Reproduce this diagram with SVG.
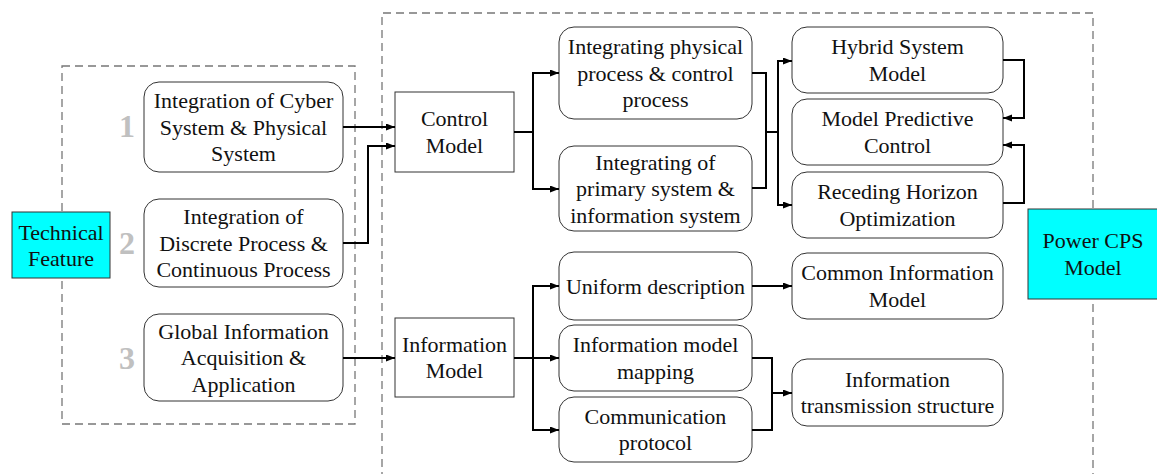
<svg xmlns="http://www.w3.org/2000/svg" width="1157" height="474" viewBox="0 0 1157 474">
<style>
text{font-family:"Liberation Serif","Times New Roman",serif;font-size:22px;fill:#111;text-anchor:middle}
.num{font-size:32px;font-weight:bold;fill:#c0c0c0}
.rbox{fill:#fff;stroke:#333;stroke-width:1}
.sbox{fill:#fff;stroke:#333;stroke-width:1}
.cyan{fill:#00ffff;stroke:#333;stroke-width:1}
.dash{fill:none;stroke:#777;stroke-width:1.3;stroke-dasharray:8,5}
.c{fill:none;stroke:#000;stroke-width:2}
.a{marker-end:url(#ah)}
</style>
<defs>
<marker id="ah" markerUnits="userSpaceOnUse" markerWidth="10" markerHeight="8" refX="9" refY="3.5" orient="auto">
<path d="M0,0 L9,3.5 L0,7 z" fill="#000"/>
</marker>
</defs>
<rect width="1157" height="474" fill="#fff"/>
<g id="groups">
<rect class="dash" x="62" y="66" width="293" height="358"/>
<path class="dash" d="M382,480 V13 H1093 V480"/>
</g>
<g id="numbers">
<text class="num" x="127" y="137">1</text>
<text class="num" x="127" y="254">2</text>
<text class="num" x="127" y="369">3</text>
</g>
<g id="n-tech">
<rect class="cyan" x="12" y="212" width="98" height="66"/>
<text x="61" y="239.5">Technical</text><text x="61" y="265.5">Feature</text>
</g>
<g id="n-cyber">
<rect class="rbox" x="144" y="82" width="199" height="90" rx="15"/>
<text x="243.5" y="108">Integration of Cyber</text><text x="243.5" y="134.5">System &amp; Physical</text><text x="243.5" y="161">System</text>
</g>
<g id="n-discrete">
<rect class="rbox" x="144" y="199" width="199" height="88" rx="15"/>
<text x="243.5" y="224">Integration of</text><text x="243.5" y="250.5">Discrete Process &amp;</text><text x="243.5" y="277">Continuous Process</text>
</g>
<g id="n-global">
<rect class="rbox" x="144" y="314" width="199" height="87" rx="15"/>
<text x="243.5" y="338.5">Global Information</text><text x="243.5" y="365">Acquisition &amp;</text><text x="243.5" y="391.5">Application</text>
</g>
<g id="n-control">
<rect class="sbox" x="395" y="92" width="119" height="80"/>
<text x="454.5" y="126">Control</text><text x="454.5" y="152.5">Model</text>
</g>
<g id="n-info">
<rect class="sbox" x="395" y="318" width="119" height="79"/>
<text x="454.5" y="351.5">Information</text><text x="454.5" y="378">Model</text>
</g>
<g id="n-physproc">
<rect class="rbox" x="559" y="27" width="193" height="92" rx="15"/>
<text x="655.5" y="54">Integrating physical</text><text x="655.5" y="80.5">process &amp; control</text><text x="655.5" y="107">process</text>
</g>
<g id="n-primary">
<rect class="rbox" x="559" y="146" width="193" height="85" rx="15"/>
<text x="655.5" y="169.5">Integrating of</text><text x="655.5" y="196">primary system &amp;</text><text x="655.5" y="222.5">information system</text>
</g>
<g id="n-hybrid">
<rect class="rbox" x="792" y="27" width="211" height="66" rx="15"/>
<text x="897.5" y="54">Hybrid System</text><text x="897.5" y="80.5">Model</text>
</g>
<g id="n-mpc">
<rect class="rbox" x="792" y="99" width="211" height="66" rx="15"/>
<text x="897.5" y="126">Model Predictive</text><text x="897.5" y="152.5">Control</text>
</g>
<g id="n-receding">
<rect class="rbox" x="792" y="172" width="211" height="66" rx="15"/>
<text x="897.5" y="199">Receding Horizon</text><text x="897.5" y="225.5">Optimization</text>
</g>
<g id="n-uniform">
<rect class="rbox" x="559" y="252" width="193" height="68" rx="15"/>
<text x="655.5" y="293.5">Uniform description</text>
</g>
<g id="n-mapping">
<rect class="rbox" x="559" y="325" width="193" height="66" rx="15"/>
<text x="655.5" y="352">Information model</text><text x="655.5" y="378.5">mapping</text>
</g>
<g id="n-protocol">
<rect class="rbox" x="559" y="397" width="193" height="65" rx="15"/>
<text x="655.5" y="423.5">Communication</text><text x="655.5" y="450">protocol</text>
</g>
<g id="n-cim">
<rect class="rbox" x="792" y="253" width="211" height="66" rx="15"/>
<text x="897.5" y="280">Common Information</text><text x="897.5" y="306.5">Model</text>
</g>
<g id="n-transmission">
<rect class="rbox" x="792" y="359" width="211" height="67" rx="15"/>
<text x="897.5" y="386.5">Information</text><text x="897.5" y="413">transmission structure</text>
</g>
<g id="n-powercps">
<rect class="cyan" x="1028" y="209" width="135" height="90"/>
<text x="1093" y="248">Power CPS</text><text x="1093" y="274.5">Model</text>
</g>
<g id="connectors">
<path class="c a" d="M343,127 H395"/>
<path class="c a" d="M343,243 H368 V146 H395"/>
<path class="c a" d="M343,358 H395"/>
<path class="c a" d="M514,132 H533 V73 H559"/>
<path class="c a" d="M533,132 V189 H559"/>
<path class="c" d="M752,73 H766 V188 H752"/>
<path class="c a" d="M766,132 H778 V61 H792"/>
<path class="c a" d="M778,132 V205 H792"/>
<path class="c a" d="M1003,60 H1024 V118 H1003"/>
<path class="c a" d="M1003,203 H1024 V145 H1003"/>
<path class="c a" d="M514,358 H559"/>
<path class="c a" d="M533,358 V286 H559"/>
<path class="c a" d="M533,358 V430 H559"/>
<path class="c a" d="M752,286 H792"/>
<path class="c" d="M752,358 H772 V430 H752"/>
<path class="c a" d="M772,393 H792"/>
</g>
</svg>
